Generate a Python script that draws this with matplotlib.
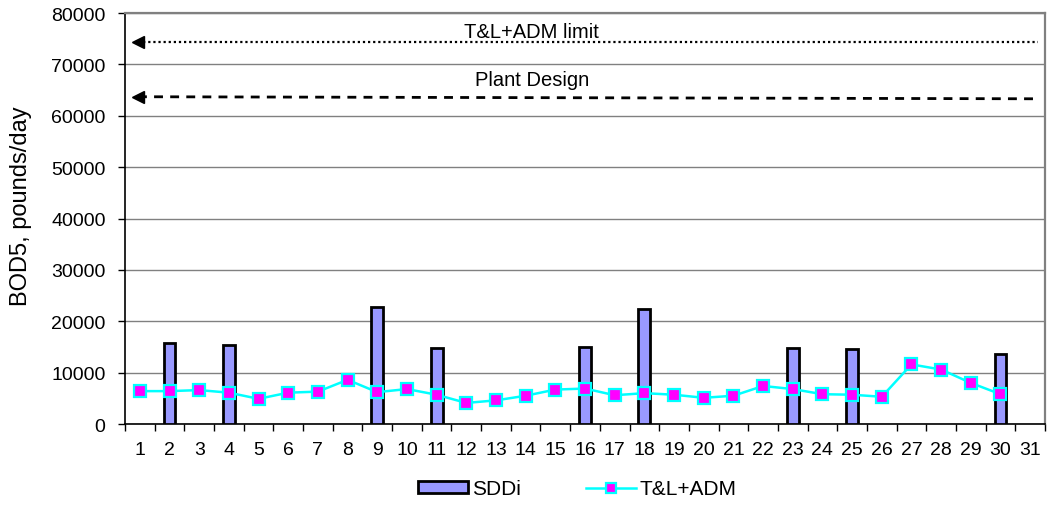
import matplotlib
matplotlib.use('Agg')
import matplotlib.pyplot as plt
import numpy as np
from matplotlib.transforms import blended_transform_factory

plt.rcParams['font.family'] = ['Liberation Sans', 'DejaVu Sans']

# ---- data ----
days = list(range(1, 32))
sddi_days = [2, 4, 9, 11, 16, 18, 23, 25, 30]
sddi_values = [15800, 15300, 22700, 14800, 15000, 22400, 14800, 14600, 13600]
tl_adm_values = [6400, 6400, 6600, 6100, 4900, 6100, 6300, 8600, 6200, 6800,
                 5700, 4100, 4600, 5500, 6700, 6900, 5600, 6000, 5700, 5100,
                 5500, 7400, 6800, 5800, 5700, 5300, 11600, 10600, 8000, 5800,
                 np.nan]
limit_value = 74400
design_value_left = 63700
design_value_right = 63300
y_ticks = [0, 10000, 20000, 30000, 40000, 50000, 60000, 70000, 80000]
x_labels = [str(d) for d in days]

# ---- figure ----
W, H = 1047, 506
fig = plt.figure(figsize=(W / 100, H / 100), dpi=100)
ax = fig.add_axes([125 / W, 1 - 425 / H, 920 / W, 411 / H])

bars = ax.bar(sddi_days, sddi_values, width=0.4, color='#9999FF', edgecolor='black',
              linewidth=2.0, zorder=3, label='SDDi')
line, = ax.plot(days, tl_adm_values, color='#00FFFF', lw=1.8, marker='s', ms=9,
                mfc='#FF00FF', mec='#00FFFF', mew=1.6, zorder=4, label='T&L+ADM')

ax.set_xlim(0.5, 31.5)
ax.set_ylim(0, 80000)
ax.set_yticks(y_ticks)
ax.set_yticklabels([str(v) for v in y_ticks])
ax.set_xticks(days)
ax.set_xticklabels(x_labels)
ax.set_xticks(np.arange(0.5, 31.6, 1), minor=True)

ax.yaxis.grid(True, color='#808080', lw=1.0)
ax.set_axisbelow(True)

for s in ['left', 'bottom']:
    ax.spines[s].set_color('black')
    ax.spines[s].set_linewidth(1.2)
for s in ['top', 'right']:
    ax.spines[s].set_color('#808080')
    ax.spines[s].set_linewidth(1.6)

ax.tick_params(axis='x', which='major', length=0, pad=12.5, labelsize=14)
ax.tick_params(axis='x', which='minor', length=5, width=1, direction='out', color='black')
ax.tick_params(axis='y', which='major', length=5, width=1, pad=9, labelsize=14, direction='out')

ax.set_ylabel('BOD5, pounds/day', fontsize=17)
ax.yaxis.set_label_coords(-0.101, 0.533)

# ---- reference lines with arrowheads ----
trans = blended_transform_factory(ax.transAxes, ax.transData)
x_head = 0.0141
x_end = 0.992
ax.plot([x_head, x_end], [limit_value, limit_value], ls=(0, (1, 1.3)), lw=1.6,
        color='black', transform=trans, zorder=5, clip_on=False)
ax.plot([x_head], [limit_value], marker='<', ms=9, color='black', transform=trans,
        zorder=5, clip_on=False)
ax.plot([x_head, x_end], [design_value_left, design_value_right], ls=(0, (3.2, 2.6)),
        lw=2.0, color='black', transform=trans, zorder=5, clip_on=False)
ax.plot([x_head], [design_value_left], marker='<', ms=9, color='black', transform=trans,
        zorder=5, clip_on=False)

ax.text(0.442, 0.956, 'T&L+ADM limit', transform=ax.transAxes, ha='center',
        va='center', fontsize=14.5)
ax.text(0.442, 0.839, 'Plant Design', transform=ax.transAxes, ha='center',
        va='center', fontsize=14.5)

# ---- legend ----
fig.legend([bars, line], ['SDDi', 'T&L+ADM'], loc='center',
           bbox_to_anchor=(577.5 / W, 1 - 490 / H),
           ncol=2, frameon=False, fontsize=15, handlelength=2.4, handleheight=0.53,
           columnspacing=3.1, handletextpad=0.2, markerscale=0.75)

fig.savefig('out.png', dpi=100)
